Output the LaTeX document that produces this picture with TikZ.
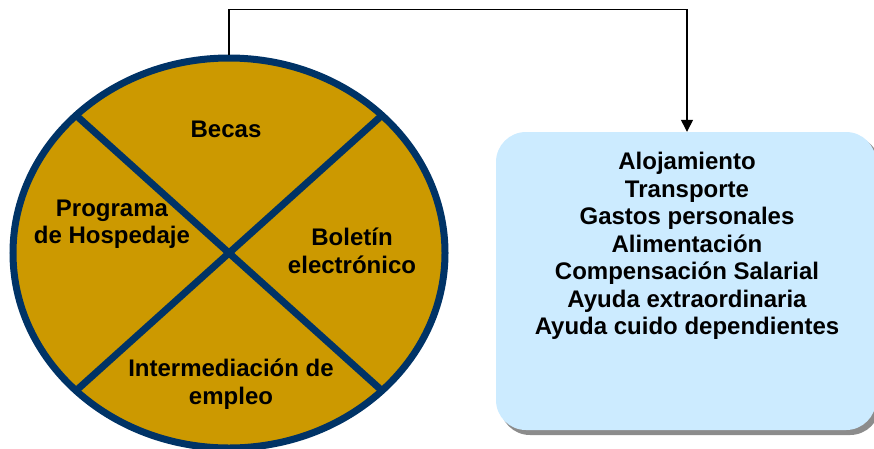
\documentclass[tikz,border=0pt]{standalone}
\usepackage{fontspec}
\setmainfont{Liberation Sans}
\usetikzlibrary{shapes.geometric,arrows.meta,calc}
\definecolor{gold}{HTML}{CC9900}
\definecolor{navy}{HTML}{003366}
\definecolor{paleblue}{HTML}{CCEBFF}
\begin{document}
\begin{tikzpicture}[x=1pt,y=-1pt,
  lbl/.style={font=\fontsize{24}{27.5}\selectfont\bfseries, align=center, inner sep=0pt, text=black},
  conn/.style={line width=1.3pt, -{Triangle[length=12pt,width=12pt]}}]
\useasboundingbox (0,0) rectangle (874,448);
% ellipse
\node[ellipse, draw=navy, fill=gold, line width=7pt, minimum width=432pt, minimum height=390pt, inner sep=0pt] (circ) at (229,253) {};
\begin{scope}
  \clip (229,253) ellipse [x radius=216pt, y radius=195pt];
  \draw[navy, line width=7pt] (229,253) ++(-250,-225) -- ++(500,450);
  \draw[navy, line width=7pt] (229,253) ++(250,-225) -- ++(-500,450);
\end{scope}
\node[lbl] (becas) at (226,129) {Becas};
\node[lbl] (prog) at (112,224) {Programa\\de Hospedaje};
\node[lbl] (bol) at (352,251) {Boletín\\electrónico};
\node[lbl] (inter) at (231,384) {Intermediación de\\empleo};
% box
\fill[gray!90, rounded corners=30pt] (500,136) rectangle (880,435);
\node[draw=none, fill=paleblue, rounded corners=30pt, minimum width=380pt, minimum height=298pt] (box) at (686,281) {};
\node[lbl] (items) at (687,246) {Alojamiento\\Transporte\\Gastos personales\\Alimentación\\Compensación Salarial\\Ayuda extraordinaria\\Ayuda cuido dependientes};
\coordinate (tip) at ($(box.north)+(1,0)$);
\draw[conn] (circ.north) -- ++(0,-45) -| (tip);
\end{tikzpicture}
\end{document}
